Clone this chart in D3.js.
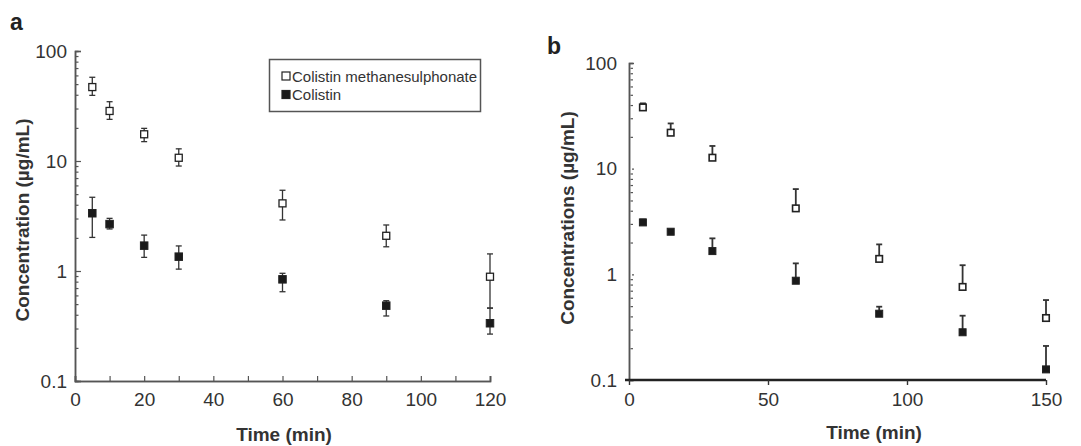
<!DOCTYPE html>
<html>
<head>
<meta charset="utf-8">
<script src="https://cdn.jsdelivr.net/npm/d3@7"></script>
<style>
  body { margin: 0; background: #fff; }
  svg { font-family: "Liberation Sans", Arial, sans-serif; }
</style>
</head>
<body>
<div id="chart"></div>
<script>
// panel a: mean, lower, upper
const timesA = [5, 10, 20, 30, 60, 90, 120];
const cmsA = [47, 28.5, 17.5, 10.7, 4.12, 2.09, 0.887];
const cmsALo = [39.5, 23.9, 15.0, 9.0, 2.91, 1.66, 0.46];
const cmsAHi = [57.7, 34.6, 19.8, 12.9, 5.42, 2.62, 1.43];
const colA = [3.35, 2.67, 1.70, 1.35, 0.84, 0.484, 0.335];
const colALo = [2.02, 2.41, 1.33, 1.04, 0.648, 0.39, 0.267];
const colAHi = [4.68, 3.01, 2.12, 1.69, 0.953, 0.537, 0.46];

// panel b: mean, upper only
const timesB = [5, 15, 30, 60, 90, 120, 150];
const cmsB = [38.0, 21.9, 12.7, 4.21, 1.40, 0.76, 0.386];
const cmsBHi = [41.5, 26.8, 16.4, 6.41, 1.92, 1.22, 0.571];
const colB = [3.10, 2.53, 1.66, 0.87, 0.424, 0.283, 0.126];
const colBHi = [3.3, 2.6, 2.19, 1.27, 0.494, 0.406, 0.21];

const yMajor = [0.1, 1, 10, 100];
const yMinor = [];
[0.1, 1, 10].forEach(d => { for (let k = 2; k <= 9; k++) yMinor.push(d * k); });
const legendLabels = ["Colistin methanesulphonate", "Colistin"];

const width = 1081, height = 446;
const ink = "#333";
const axisCol = "#555";
const tickFs = 19, titleFs = 19;

const svg = d3.select("#chart").append("svg")
    .attr("width", width)
    .attr("height", height);

const styleAxis = (g, fs) => {
    g.select(".domain").attr("stroke", axisCol).attr("stroke-width", 1.5);
    g.selectAll(".tick line").attr("stroke", axisCol).attr("stroke-width", 1.2);
    g.selectAll("text").attr("fill", ink).style("font-size", fs + "px");
};
const fmt = d => d === 0.1 ? "0.1" : d3.format("d")(d);

// ---------- panel a ----------
const xA = d3.scaleLinear().domain([0, 120]).range([75, 490]);
const yA = d3.scaleLog().domain([0.1, 100]).range([381, 51]);

svg.append("g").attr("transform", "translate(75,0)")
    .call(d3.axisLeft(yA).tickValues(yMinor).tickSize(-3.5).tickFormat(""))
    .call(g => styleAxis(g, tickFs));
svg.append("g").attr("transform", "translate(75,0)")
    .call(d3.axisLeft(yA).tickValues(yMajor).tickSize(-6).tickPadding(8).tickFormat(fmt))
    .call(g => styleAxis(g, tickFs));
svg.append("g").attr("transform", "translate(0,381)")
    .call(d3.axisBottom(xA).tickValues(d3.range(10, 121, 20)).tickSize(-5).tickFormat(""))
    .call(g => styleAxis(g, tickFs));
svg.append("g").attr("transform", "translate(0,381)")
    .call(d3.axisBottom(xA).tickValues(d3.range(0, 121, 20)).tickSize(-5).tickPadding(12).tickFormat(d3.format("d")))
    .call(g => styleAxis(g, tickFs));

const drawBars = (x, y, times, lo, hi, cap, sw) => {
    const g = svg.append("g").attr("stroke", "#333").attr("stroke-width", sw);
    times.forEach((t, i) => {
        g.append("line").attr("x1", x(t)).attr("x2", x(t)).attr("y1", y(lo[i])).attr("y2", y(hi[i]));
        g.append("line").attr("x1", x(t) - cap).attr("x2", x(t) + cap).attr("y1", y(hi[i])).attr("y2", y(hi[i]));
        if (lo !== hi) g.append("line").attr("x1", x(t) - cap).attr("x2", x(t) + cap).attr("y1", y(lo[i])).attr("y2", y(lo[i]));
    });
};
const drawMarks = (x, y, times, vals, filled, s, sw) => {
    svg.append("g").selectAll("rect")
        .data(times.map((t, i) => ({ t, v: vals[i] })))
        .enter().append("rect")
        .attr("x", d => x(d.t) - s / 2)
        .attr("y", d => y(d.v) - s / 2)
        .attr("width", s).attr("height", s)
        .attr("fill", filled ? "#1a1a1a" : "#fff")
        .attr("stroke", "#222")
        .attr("stroke-width", sw);
};

drawBars(xA, yA, timesA, cmsALo, cmsAHi, 3, 1.3);
drawBars(xA, yA, timesA, colALo, colAHi, 3, 1.3);
drawMarks(xA, yA, timesA, cmsA, false, 7, 1.3);
drawMarks(xA, yA, timesA, colA, true, 7.5, 1);

// legend
svg.append("rect").attr("x", 269.5).attr("y", 59.5).attr("width", 211).attr("height", 52)
    .attr("fill", "#fff").attr("stroke", "#555").attr("stroke-width", 1.5);
legendLabels.forEach((lab, i) => {
    const cy = 76 + i * 18.5;
    svg.append("rect").attr("x", 282).attr("y", cy - 4).attr("width", 8).attr("height", 8)
        .attr("fill", i === 0 ? "#fff" : "#1a1a1a").attr("stroke", "#222").attr("stroke-width", 1.2);
    svg.append("text").attr("x", 292).attr("y", cy + 5.5).attr("fill", ink)
        .style("font-size", "15px").text(lab);
});

svg.append("text").attr("x", 284).attr("y", 441).attr("text-anchor", "middle")
    .attr("fill", ink).style("font-size", titleFs + "px").style("font-weight", "bold").text("Time (min)");
svg.append("text").attr("transform", "translate(29,220) rotate(-90)").attr("text-anchor", "middle")
    .attr("fill", ink).style("font-size", titleFs + "px").style("font-weight", "bold").text("Concentration (µg/mL)");
svg.append("text").attr("x", 10).attr("y", 30).attr("fill", "#222")
    .style("font-size", "23px").style("font-weight", "bold").text("a");

// ---------- panel b ----------
const xB = d3.scaleLinear().domain([0, 150]).range([629, 1046]);
const yB = d3.scaleLog().domain([0.1, 100]).range([380, 63]);

svg.append("g").attr("transform", "translate(629,0)")
    .call(d3.axisLeft(yB).tickValues(yMinor).tickSize(-4).tickFormat(""))
    .call(g => styleAxis(g, tickFs))
    .call(g => g.selectAll(".tick line").attr("x1", 1.5));
svg.append("g").attr("transform", "translate(629,0)")
    .call(d3.axisLeft(yB).tickValues(yMajor).tickSize(-5).tickPadding(12).tickFormat(fmt))
    .call(g => styleAxis(g, tickFs))
    .call(g => g.selectAll(".tick line").attr("x1", 3));
svg.append("g").attr("transform", "translate(0,380)")
    .call(d3.axisBottom(xB).tickValues([0, 50, 100, 150]).tickSize(5).tickPadding(8).tickSizeOuter(0).tickFormat(d3.format("d")))
    .call(g => styleAxis(g, tickFs))
    .call(g => g.select(".domain").attr("stroke", "#222").attr("stroke-width", 2.5).attr("d", "M625,0H1046"))
    .call(g => g.selectAll(".tick line").attr("stroke", "#333").attr("stroke-width", 1.4));

drawBars(xB, yB, timesB, cmsB, cmsBHi, 3, 1.8);
drawBars(xB, yB, timesB, colB, colBHi, 3, 1.8);
drawMarks(xB, yB, timesB, cmsB, false, 6.5, 1.6);
drawMarks(xB, yB, timesB, colB, true, 7, 1);

svg.append("text").attr("x", 874).attr("y", 439).attr("text-anchor", "middle")
    .attr("fill", ink).style("font-size", titleFs + "px").style("font-weight", "bold").text("Time (min)");
svg.append("text").attr("transform", "translate(574,218) rotate(-90)").attr("text-anchor", "middle")
    .attr("fill", ink).style("font-size", titleFs + "px").style("font-weight", "bold").text("Concentrations (µg/mL)");
svg.append("text").attr("x", 547).attr("y", 54).attr("fill", "#222")
    .style("font-size", "23px").style("font-weight", "bold").text("b");
</script>
</body>
</html>
